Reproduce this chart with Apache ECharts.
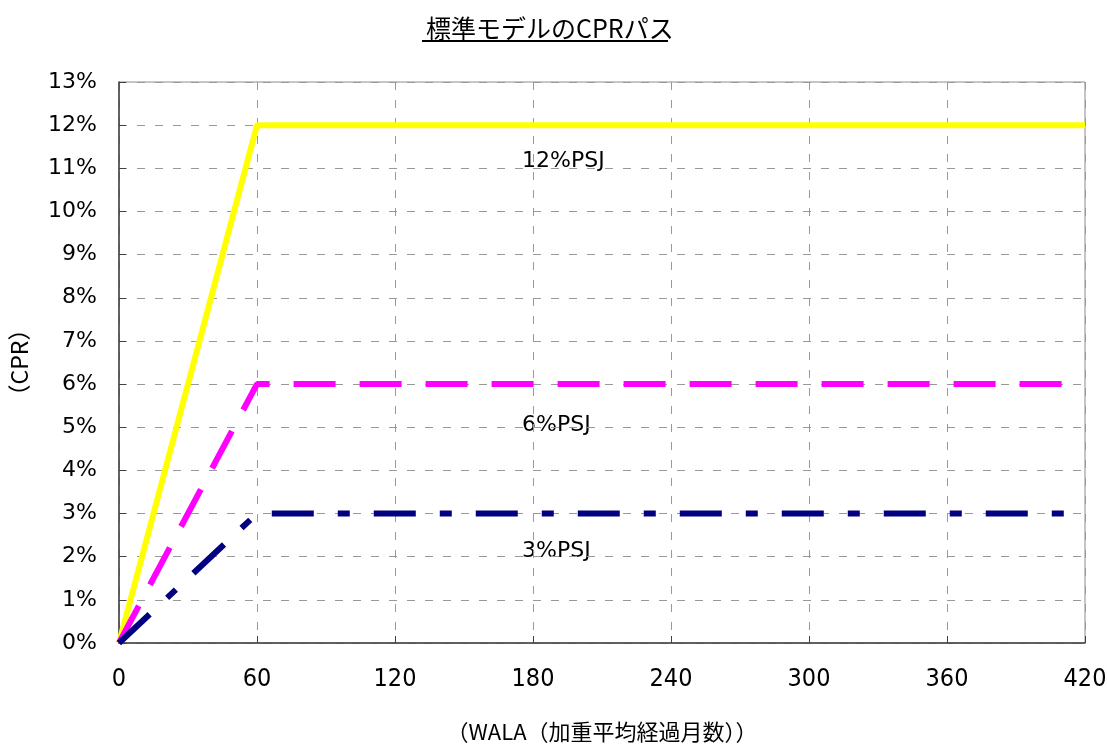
<!DOCTYPE html>
<html>
<head>
<meta charset="utf-8">
<script src="https://cdn.jsdelivr.net/npm/echarts@6/dist/echarts.min.js"></script>
<style>html,body{margin:0;padding:0;background:#fff}#c{width:1107px;height:744px}</style>
</head>
<body>
<div id="c"></div>
<script>
// WALA (months) and CPR (%)
const months = [0, 60, 420];
const psj12 = [0, 12, 12];
const psj6 = [0, 6, 6];
const psj3 = [0, 3, 3];
const seriesNames = ['12%PSJ', '6%PSJ', '3%PSJ'];

const chart = echarts.init(document.getElementById('c'), null, {renderer: 'canvas'});
const toPairs = arr => months.map((m, i) => [m, arr[i]]);
const cjk = '"Noto Sans CJK JP", "Noto Sans", sans-serif';
const wide = '"DejaVu Sans", Verdana, sans-serif';
const narrow = '"Liberation Sans Narrow", "DejaVu Sans Condensed", "Noto Sans", sans-serif';

chart.setOption({
  animation: false,
  backgroundColor: '#fff',
  title: {
    text: '標準モデルのCPRパス',
    left: 421,
    top: 11,
    textStyle: {fontFamily: cjk, fontSize: 25, fontWeight: 'normal', color: '#000'}
  },
  grid: {left: 119, right: 22, top: 82, bottom: 101, show: true, borderColor: '#8c8c8c', borderWidth: 1, outerBoundsMode: 'none', containLabel: false},
  xAxis: {
    type: 'value', min: 0, max: 420, interval: 60,
    name: '（WALA（加重平均経過月数））', nameLocation: 'middle', nameGap: 78,
    nameTextStyle: {fontFamily: cjk, fontSize: 22, color: '#000'},
    axisLine: {show: true, lineStyle: {color: '#404040', width: 1.5}},
    axisTick: {show: true, inside: true, length: 7, lineStyle: {color: '#404040'}},
    axisLabel: {margin: 24, fontFamily: narrow, fontSize: 25, color: '#000'},
    splitLine: {show: true, lineStyle: {color: '#999', type: [8, 10], width: 1}}
  },
  yAxis: {
    type: 'value', min: 0, max: 13, interval: 1,
    name: '（CPR）', nameLocation: 'middle', nameGap: 88, nameRotate: 90,
    nameTextStyle: {fontFamily: cjk, fontSize: 23, color: '#000'},
    axisLine: {show: true, lineStyle: {color: '#404040', width: 1.5}},
    axisTick: {show: true, inside: true, length: 7, lineStyle: {color: '#404040'}},
    axisLabel: {margin: 22, fontFamily: wide, fontSize: 22, color: '#000', formatter: v => v + '%'},
    splitLine: {show: true, lineStyle: {color: '#999', type: [8, 10], width: 1}}
  },
  series: [
    {name: seriesNames[0], type: 'line', data: toPairs(psj12), symbol: 'none', clip: false,
     lineStyle: {color: '#FFFF00', width: 6, type: 'solid'}},
    {name: seriesNames[1], type: 'line', data: toPairs(psj6), symbol: 'none',
     lineStyle: {color: '#FF00FF', width: 6, type: [42, 24]}},
    {name: seriesNames[2], type: 'line', data: toPairs(psj3), symbol: 'none',
     lineStyle: {color: '#000080', width: 6, type: [42, 24, 12, 24]}}
  ],
  graphic: [
    {type: 'rect', shape: {x: 422, y: 40, width: 246, height: 2}, style: {fill: '#000'}},
    {type: 'text', left: 518, top: 150, style: {text: '12%PSJ', font: '22px "DejaVu Sans", sans-serif', fill: '#000', backgroundColor: '#fff', padding: [0, 4]}},
    {type: 'text', left: 518, top: 414, style: {text: '6%PSJ', font: '22px "DejaVu Sans", sans-serif', fill: '#000', backgroundColor: '#fff', padding: [0, 4]}},
    {type: 'text', left: 518, top: 540, style: {text: '3%PSJ', font: '22px "DejaVu Sans", sans-serif', fill: '#000', backgroundColor: '#fff', padding: [0, 4]}}
  ]
});
</script>
</body>
</html>
